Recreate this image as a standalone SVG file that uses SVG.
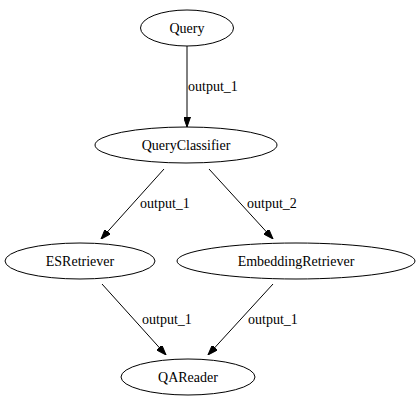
<svg xmlns="http://www.w3.org/2000/svg" width="419" height="407" viewBox="0 0 419 407">
<defs>
<style>
.n ellipse{fill:none;stroke:#000;stroke-width:1}
.t{font-family:'Liberation Serif','Times New Roman',Times,'DejaVu Serif',serif;font-size:14px;fill:#000}
.n text{text-anchor:middle}
.e line{stroke:#000;stroke-width:1}
</style>
<marker id="ah" markerUnits="userSpaceOnUse" markerWidth="10" markerHeight="7" refX="10" refY="3.5" orient="auto">
<path d="M0,0 L10,3.5 L0,7 z" fill="#000" stroke="#000"/>
</marker>
</defs>
<rect width="419" height="407" fill="#fff"/>
<g id="edges" class="e">
<line x1="187" y1="46" x2="187" y2="127" marker-end="url(#ah)"/>
<text class="t" font-family="Liberation Serif" x="188" y="91">output_1</text>
<line x1="164" y1="169" x2="101" y2="239" marker-end="url(#ah)"/>
<text class="t" font-family="Liberation Serif" x="140" y="208">output_1</text>
<line x1="209" y1="169" x2="273" y2="239" marker-end="url(#ah)"/>
<text class="t" font-family="Liberation Serif" x="247" y="208">output_2</text>
<line x1="102" y1="284" x2="166" y2="355" marker-end="url(#ah)"/>
<text class="t" font-family="Liberation Serif" x="142" y="324">output_1</text>
<line x1="273" y1="284" x2="208" y2="355" marker-end="url(#ah)"/>
<text class="t" font-family="Liberation Serif" x="248" y="324">output_1</text>
</g>
<g id="Query" class="n"><ellipse cx="187" cy="28" rx="46.5" ry="18"/><text class="t" font-family="Liberation Serif" x="187" y="32.5">Query</text></g>
<g id="QueryClassifier" class="n"><ellipse cx="186" cy="145" rx="91" ry="18"/><text class="t" font-family="Liberation Serif" x="186" y="149.5">QueryClassifier</text></g>
<g id="ESRetriever" class="n"><ellipse cx="80" cy="261" rx="75" ry="18"/><text class="t" font-family="Liberation Serif" x="80" y="265.5">ESRetriever</text></g>
<g id="EmbeddingRetriever" class="n"><ellipse cx="296" cy="261" rx="119" ry="18"/><text class="t" font-family="Liberation Serif" x="296" y="265.5">EmbeddingRetriever</text></g>
<g id="QAReader" class="n"><ellipse cx="188" cy="377" rx="67" ry="18"/><text class="t" font-family="Liberation Serif" x="188" y="381.5">QAReader</text></g>
</svg>
